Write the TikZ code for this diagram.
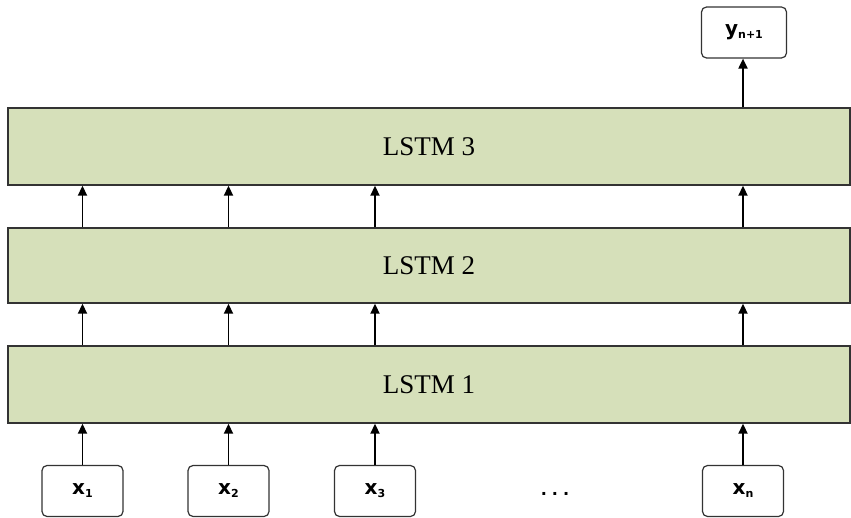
\documentclass[tikz,border=0pt]{standalone}
\usepackage{fontspec}
\setmainfont{Liberation Serif}
\newfontfamily\lblfont{DejaVu Sans}
\usetikzlibrary{arrows.meta}
\definecolor{layerfill}{HTML}{D6E0BA}
\definecolor{edgegray}{HTML}{333333}
\tikzset{
  layer/.style={draw=edgegray, line width=1.4pt, fill=layerfill, rectangle, minimum width=842pt, inner sep=0pt, font=\fontsize{27}{30}\selectfont},
  iobox/.style={draw=edgegray, line width=1.2pt, fill=white, rounded corners=5pt, minimum width=81pt, minimum height=51pt, inner sep=0pt, font=\lblfont\bfseries\fontsize{20}{24}\selectfont},
  conn/.style={line width=1.9pt, -{Triangle[length=10pt,width=9pt]}}
}
\newcommand{\lsub}[1]{\raisebox{-3pt}{\fontsize{11}{12}\selectfont #1}}
\begin{document}
\begin{tikzpicture}[x=1pt,y=-1pt]
\useasboundingbox (0,0) rectangle (851,518);
\node[layer, minimum height=77pt] (l3) at (429,146.5) {LSTM 3};
\node[layer, minimum height=75pt] (l2) at (429,265.5) {LSTM 2};
\node[layer, minimum height=77pt] (l1) at (429,384.5) {LSTM 1};
\node[iobox] (x1) at (82.5,491) {x\lsub{1}};
\node[iobox] (x2) at (228.5,491) {x\lsub{2}};
\node[iobox] (x3) at (375,491) {x\lsub{3}};
\node[iobox] (xn) at (743,491) {x\lsub{n}};
\node[iobox, minimum width=85pt] (y) at (744,32.5) {y\lsub{n+1}};
\node[font=\lblfont\bfseries\fontsize{16}{20}\selectfont] (dots) at (555,494) {.\hspace{5pt}.\hspace{5pt}.};
\foreach \c in {x1,x2,x3,xn}{
  \draw[conn] (\c.north) -- (l1.south -| \c);
  \draw[conn] (l1.north -| \c) -- (l2.south -| \c);
  \draw[conn] (l2.north -| \c) -- (l3.south -| \c);
}
\draw[conn] (l3.north -| xn) -- (y.south -| xn);
\end{tikzpicture}
\end{document}
